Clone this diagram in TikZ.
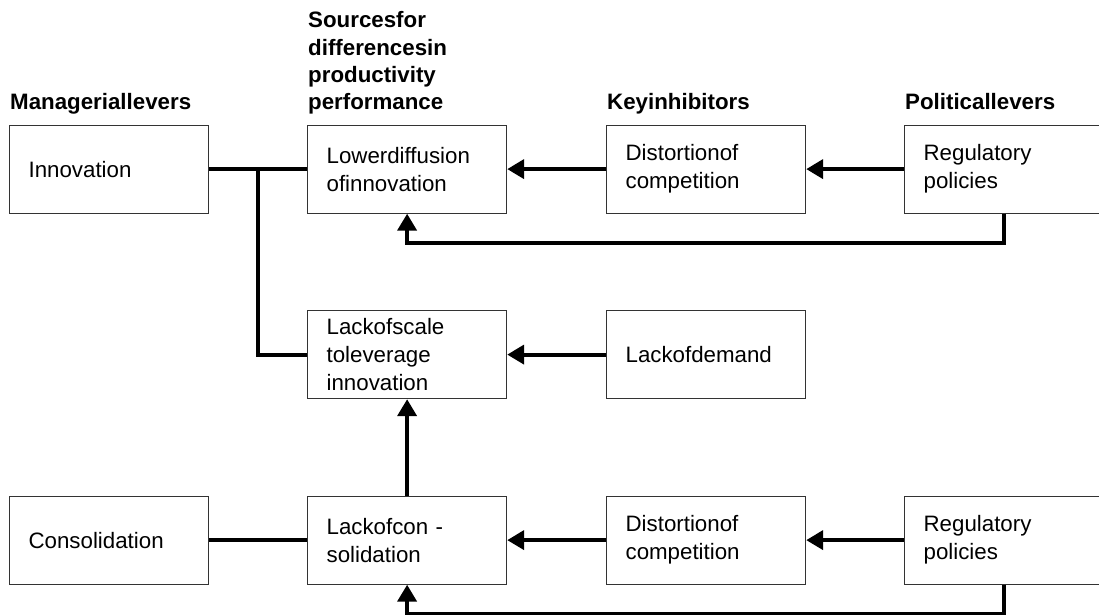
\documentclass[tikz,border=0pt]{standalone}
\usepackage{fontspec}
\setmainfont{Liberation Sans}
\usetikzlibrary{arrows.meta,calc}
\begin{document}
\begin{tikzpicture}[x=1pt,y=-1pt,
  box/.style={draw=black!80, line width=1.2pt, minimum height=88pt,
    inner xsep=19pt, inner ysep=0pt, text width=161pt, align=left,
    font=\fontsize{22.3}{28}\selectfont, anchor=north west},
  head/.style={font=\fontsize{22.3}{27.4}\selectfont\bfseries,
    inner sep=0pt, align=left},
  link/.style={line width=4pt},
  arr/.style={link, -{Triangle[length=17pt,width=19pt]}}]
\useasboundingbox (0,0) rectangle (1099,615);
\clip (0,0) rectangle (1099,615);

% column headings
\node[head, anchor=base west] (hman) at (10,110) {Manageriallevers};
\node[head, anchor=south west] (hsrc) at (308,114.7)
  {Sourcesfor\\differencesin\\productivity\\performance};
\node[head, anchor=base west] (hinh) at (607,110) {Keyinhibitors};
\node[head, anchor=base west] (hpol) at (905,110) {Politicallevers};

% top row
\node[box] (inno)  at (9,124.5)   {Innovation};
\node[box] (low)   at (307,124.5) {Lowerdiffusion\\ofinnovation};
\node[box] (dis1)  at (606,124.5) {Distortionof\\competition};
\node[box] (reg1)  at (904,124.5) {Regulatory\\policies};

% middle row
\node[box] (scale) at (307,310)   {Lackofscale\\toleverage\\innovation};
\node[box] (dem)   at (606,310)   {Lackofdemand};

% bottom row
\node[box] (cons)  at (9,495.5)   {Consolidation};
\node[box] (lcon)  at (307,495.5) {Lackofcon -\\solidation};
\node[box] (dis2)  at (606,495.5) {Distortionof\\competition};
\node[box] (reg2)  at (904,495.5) {Regulatory\\policies};

% connectors
\coordinate (j) at ($(inno.east)!0.5!(low.west)$);
\draw[link] (inno.east) -- (low.west);
\draw[link] (j) |- (scale.west);
\draw[arr] (dis1.west) -- (low.east);
\draw[arr] (reg1.west) -- (dis1.east);
\draw[arr] (reg1.south) -- ++(0,29.5) -| (low.south);

\draw[arr] (dem.west) -- (scale.east);
\draw[arr] (lcon.north) -- (scale.south);

\draw[link] (cons.east) -- (lcon.west);
\draw[arr] (dis2.west) -- (lcon.east);
\draw[arr] (reg2.west) -- (dis2.east);
\draw[arr] (reg2.south) -- ++(0,29.5) -| (lcon.south);
\end{tikzpicture}
\end{document}
